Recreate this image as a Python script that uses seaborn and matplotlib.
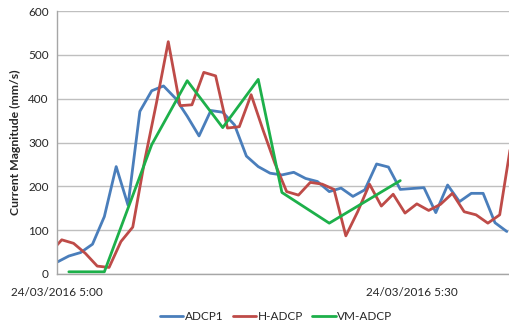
import matplotlib
matplotlib.use("Agg")
import matplotlib.pyplot as plt
import seaborn as sns
import pandas as pd

# minutes after 24/03/2016 5:00
adcp1_t = list(range(0, 39))
adcp1_v = [27, 41, 49, 68, 131, 245, 157, 371, 418, 429, 401, 360, 315, 373, 369, 340,
           269, 245, 230, 226, 232, 218, 211, 188, 196, 177, 192, 251, 244, 193, 195,
           197, 140, 203, 165, 184, 184, 117, 97]

hadcp_t = [-0.6 + k for k in range(0, 40)]
hadcp_v = [48, 78, 70, 47, 18, 15, 74, 107, 258, 390, 530, 384, 386, 460, 452, 333,
           336, 409, 329, 253, 188, 180, 209, 205, 193, 87, 142, 205, 155, 182, 139,
           160, 145, 159, 184, 142, 135, 116, 135, 305]

vmadcp_t = [1, 4, 8, 11, 14, 17, 19, 23, 29]
vmadcp_v = [5, 5, 295, 441, 334, 444, 186, 116, 213]

series_names = ["ADCP1", "H-ADCP", "VM-ADCP"]
colors = ["#4A7EBB", "#BE4B48", "#1DB04A"]
tick_pos = [0, 30]
tick_labels = ["24/03/2016 5:00", "24/03/2016 5:30"]

df = pd.concat([
    pd.DataFrame({"t": adcp1_t, "v": adcp1_v, "s": series_names[0]}),
    pd.DataFrame({"t": hadcp_t, "v": hadcp_v, "s": series_names[1]}),
    pd.DataFrame({"t": vmadcp_t, "v": vmadcp_v, "s": series_names[2]}),
], ignore_index=True)

sns.set_style("white")
plt.rcParams["font.family"] = ["Lato", "DejaVu Sans"]

fig = plt.figure(figsize=(5.1, 3.26), dpi=100)
ax = fig.add_axes([57 / 510, 1 - 274 / 326, 453 / 510, 263 / 326])

sns.lineplot(data=df, x="t", y="v", hue="s", palette=colors, estimator=None,
             sort=False, linewidth=2.0, ax=ax)

ax.set_xlim(0, 38.27)
ax.set_ylim(0, 600)
ax.set_yticks(range(0, 601, 100))
ax.set_xticks(tick_pos)
ax.set_xticklabels(tick_labels)
ax.yaxis.grid(True, color="#BFBFBF", linewidth=1.0)
ax.xaxis.grid(False)
ax.set_axisbelow(True)
for side in ["top", "right"]:
    ax.spines[side].set_visible(False)
for side in ["left", "bottom"]:
    ax.spines[side].set_color("#A6A6A6")
    ax.spines[side].set_linewidth(1.0)
ax.tick_params(axis="x", direction="out", length=4, color="#A6A6A6", width=1,
               labelsize=8.5, labelcolor="#262626", pad=5)
ax.tick_params(axis="y", length=0, labelsize=8.5, labelcolor="#262626", pad=6)
ax.set_xlabel("")
ax.set_ylabel("Current Magnitude (mm/s)", fontsize=8.8, fontweight="bold",
              color="#262626", labelpad=5)

ax.legend(loc="center", bbox_to_anchor=(276 / 510, 1 - 317 / 326),
          bbox_transform=fig.transFigure, ncol=3, frameon=False,
          fontsize=8.5, handlelength=2.0, handletextpad=0.1, columnspacing=0.8)

fig.savefig("out.png", dpi=100)
